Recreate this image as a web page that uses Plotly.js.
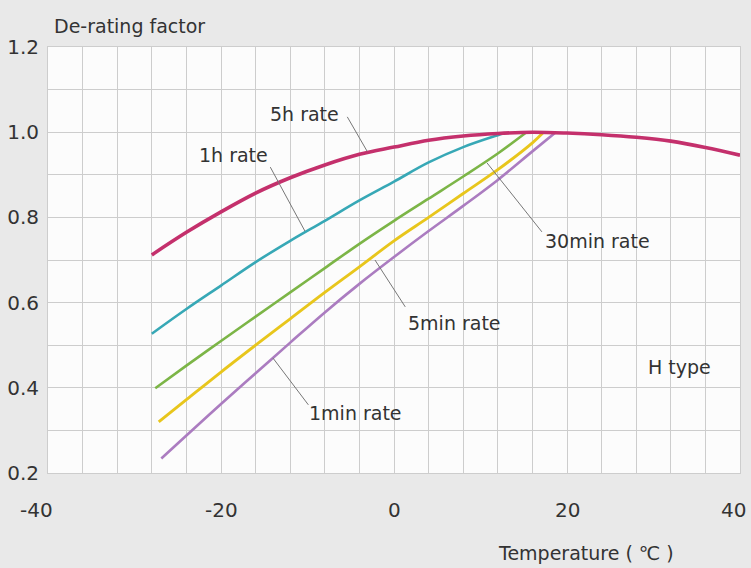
<!DOCTYPE html>
<html>
<head>
<meta charset="utf-8">
<script src="https://cdn.plot.ly/plotly-3.0.1.min.js"></script>
<style>html,body{margin:0;padding:0;background:#e9e9e9;}#chart{width:751px;height:568px;}</style>
</head>
<body>
<div id="chart"></div>
<script>
// ---- data ----
const temp5h = [-28,-24,-20,-16,-12,-8,-4,0,4,8,12,16,20,24,28,32,36,40];
const rate5h = [0.712,0.765,0.813,0.857,0.893,0.923,0.948,0.965,0.981,0.991,0.997,1.0,0.998,0.994,0.988,0.979,0.964,0.946];

const temp1h = [-28,-24,-20,-16,-12,-8,-4,0,4,8,12,12.8];
const rate1h = [0.527,0.585,0.640,0.695,0.745,0.792,0.840,0.884,0.929,0.965,0.993,0.998];

const temp30m = [-27.6,-24,-20,-16,-12,-8,-4,0,4,8,12,15.2];
const rate30m = [0.399,0.452,0.510,0.567,0.624,0.681,0.738,0.792,0.844,0.896,0.950,0.998];

const temp5m = [-27.2,-24,-20,-16,-12,-8,-4,0,4,8,12,16,17.2];
const rate5m = [0.320,0.372,0.437,0.500,0.562,0.624,0.684,0.745,0.800,0.856,0.912,0.975,0.998];

const temp1m = [-26.9,-24,-20,-16,-12,-8,-4,0,4,8,12,16,18.6];
const rate1m = [0.234,0.288,0.362,0.434,0.506,0.577,0.644,0.707,0.768,0.827,0.888,0.955,0.998];

const xTickVals = [-40,-20,0,20,40];
const xTickText = ['-40','-20','0','20','40'];
const yTickVals = [0.2,0.4,0.6,0.8,1.0,1.2];
const yTickText = ['0.2','0.4','0.6','0.8','1.0','1.2'];

const seriesNames = ['1min rate','5min rate','30min rate','1h rate','5h rate'];

// ---- chart ----
const FONT = 'DejaVu Sans, Liberation Sans, sans-serif';
const TXT = '#333333';
// horizontal nudges of the x tick labels, as placed in the reference
const xTickShift = {'-40': -12, '40': -7};

function line(x, y, name, color, width) {
  return {x: x, y: y, name: name, type: 'scatter', mode: 'lines',
    line: {color: color, width: width, shape: 'spline', smoothing: 1},
    hoverinfo: 'skip', showlegend: false};
}

const traces = [
  line(temp1m, rate1m, seriesNames[0], '#ab7cc0', 2.6),
  line(temp5m, rate5m, seriesNames[1], '#e8c61c', 2.9),
  line(temp30m, rate30m, seriesNames[2], '#7cb547', 2.6),
  line(temp1h, rate1h, seriesNames[3], '#37a8b6', 2.6),
  line(temp5h, rate5h, seriesNames[4], '#c4306c', 3.6)
];

function label(text, x, y) {
  return {text: text, x: x, y: y, xref: 'x', yref: 'y', showarrow: false,
    xanchor: 'center', yanchor: 'middle', font: {family: FONT, size: 19, color: TXT}};
}
function leader(x0, y0, x1, y1) {
  return {type: 'line', xref: 'x', yref: 'y', x0: x0, y0: y0, x1: x1, y1: y1,
    line: {color: '#777777', width: 1}};
}

const xTickLabels = xTickVals.map((v, i) => ({
  text: xTickText[i], x: v, y: -0.087, xref: 'x', yref: 'paper', showarrow: false,
  xanchor: 'center', yanchor: 'middle', xshift: xTickShift[xTickText[i]] || 0,
  font: {family: FONT, size: 20, color: TXT}
}));

const layout = {
  width: 751, height: 568,
  margin: {l: 48, r: 11, t: 47, b: 95, pad: 0},
  paper_bgcolor: '#e9e9e9',
  plot_bgcolor: '#fcfcfc',
  showlegend: false,
  xaxis: {
    range: [-40, 40], tickvals: xTickVals, ticktext: xTickText,
    ticks: '', showticklabels: false,
    showgrid: true, gridcolor: '#cdcdcd', gridwidth: 1,
    minor: {dtick: 4, showgrid: true, gridcolor: '#cdcdcd', gridwidth: 1},
    zeroline: false, showline: true, mirror: true, linecolor: '#cdcdcd', linewidth: 1,
    fixedrange: true
  },
  yaxis: {
    range: [0.2, 1.2], tickvals: yTickVals, ticktext: yTickText,
    ticks: '', ticklabelstandoff: 4,
    tickfont: {family: FONT, size: 20, color: TXT},
    showgrid: true, gridcolor: '#cdcdcd', gridwidth: 1,
    minor: {dtick: 0.1, showgrid: true, gridcolor: '#cdcdcd', gridwidth: 1},
    zeroline: false, showline: true, mirror: true, linecolor: '#cdcdcd', linewidth: 1,
    fixedrange: true
  },
  shapes: [
    leader(-5.4, 1.036, -3.1, 0.955),
    leader(-14.3, 0.918, -10.3, 0.768),
    leader(10.75, 0.928, 17.1, 0.766),
    leader(-2.2, 0.700, 1.3, 0.590),
    leader(-14.0, 0.470, -9.9, 0.360)
  ],
  annotations: [
    label('5h rate', -10.4, 1.043),
    label('1h rate', -18.6, 0.946),
    label('30min rate', 23.5, 0.745),
    label('5min rate', 7.05, 0.552),
    label('1min rate', -4.5, 0.341),
    label('H type', 33.06, 0.449),
    {text: 'De-rating factor', xref: 'paper', yref: 'paper', x: 0.006, y: 1.049,
      xanchor: 'left', yanchor: 'middle', showarrow: false,
      font: {family: FONT, size: 19, color: TXT}},
    {text: 'Temperature ( ℃ )', xref: 'paper', yref: 'paper', x: 0.777, y: -0.188,
      xanchor: 'center', yanchor: 'middle', showarrow: false,
      font: {family: FONT, size: 19, color: TXT}}
  ].concat(xTickLabels)
};

Plotly.newPlot('chart', traces, layout, {staticPlot: true, displayModeBar: false});
</script>
</body>
</html>
